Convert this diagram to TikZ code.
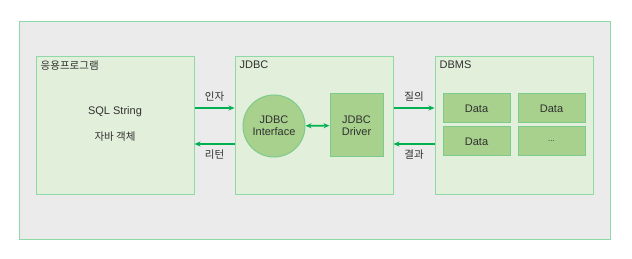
\documentclass[tikz,border=0pt]{standalone}
\usepackage{fontspec}
\setmainfont{Liberation Sans}
\newfontfamily\krfont{Noto Sans CJK KR}
\usetikzlibrary{arrows.meta, positioning, calc}
\definecolor{PanelGray}{HTML}{EBEBEB}
\definecolor{EdgeGreen}{HTML}{8ED9A6}
\definecolor{BoxGreen}{HTML}{E2EFDA}
\definecolor{PartGreen}{HTML}{A9D18E}
\definecolor{PartEdge}{HTML}{7CCB8C}
\definecolor{ArrowGreen}{HTML}{00B050}
\definecolor{TextGray}{HTML}{303030}

\tikzset{
  layer/.style={draw=EdgeGreen, fill=BoxGreen, line width=1pt, minimum width=158pt, minimum height=137pt, inner sep=0pt},
  part/.style={draw=PartEdge, fill=PartGreen, line width=1pt, text=TextGray, font=\fontsize{11}{12}\selectfont, align=center, inner sep=0pt},
  title/.style={anchor=north west, text=TextGray, font=\fontsize{11}{12}\selectfont, inner sep=0pt},
  label/.style={text=TextGray, font=\fontsize{10.5}{12}\selectfont\krfont, inner sep=0pt},
  flow/.style={-{Stealth[length=6pt,width=5pt]}, ArrowGreen, line width=1.6pt}
}

\begin{document}
\begin{tikzpicture}[x=1pt, y=-1pt]
        \useasboundingbox (0,0) rectangle (632,259);
        \fill [white] (0,0) rectangle (632,259);
        % Outer panel
        \draw [EdgeGreen, fill=PanelGray, line width=1pt] (19,22) rectangle (610,239);

        % Layers
        \node [layer] (app) at (115,125.5) {};
        \node [layer] (jdbc) at (314,125.5) {};
        \node [layer] (dbms) at (514,125.5) {};
        \node [title, font=\fontsize{10.5}{12}\selectfont\krfont] at ([shift={(5pt,-4pt)}]app.north west) {응용프로그램};
        \node [title] at ([shift={(5pt,-4pt)}]jdbc.north west) {JDBC};
        \node [title] at ([shift={(5pt,-4pt)}]dbms.north west) {DBMS};

        % Application contents
        \node [text=TextGray, font=\fontsize{11}{12}\selectfont] (sql) at ([yshift=13.5pt]app.center) {SQL String};
        \node [label] (obj) at ([yshift=-11.5pt]app.center) {자바 객체};

        % JDBC parts
        \node [part, circle, minimum size=62pt] (iface) at (274,126) {JDBC\\Interface};
        \node [part, minimum width=53pt, minimum height=63pt] (driver) at (356.5,125.5) {JDBC\\Driver};
        \draw [flow, {Stealth[length=6pt,width=5pt]}-{Stealth[length=6pt,width=5pt]}] (iface) -- (driver);

        % DBMS data
        \node [part, minimum width=67pt, minimum height=29pt] (d1) at (476.5,108.5) {Data};
        \node [part, minimum width=67pt, minimum height=29pt] (d2) at (551.5,108.5) {Data};
        \node [part, minimum width=67pt, minimum height=29pt] (d3) at (476.5,141.5) {Data};
        \node [part, minimum width=67pt, minimum height=29pt, font=\fontsize{8}{10}\selectfont] (d4) at (551.5,141.5) {...};

        % Calls and returns
        \draw [flow] ([yshift=17.5pt]app.east) -- ([yshift=17.5pt]jdbc.west) node [label, midway, above=6pt] {인자};
        \draw [flow] ([yshift=-18.5pt]jdbc.west) -- ([yshift=-18.5pt]app.east) node [label, midway, below=5pt] {리턴};
        \draw [flow] ([yshift=17.5pt]jdbc.east) -- ([yshift=17.5pt]dbms.west) node [label, midway, above=6pt] {질의};
        \draw [flow] ([yshift=-18.5pt]dbms.west) -- ([yshift=-18.5pt]jdbc.east) node [label, midway, below=5pt] {결과};
    \end{tikzpicture}
\end{document}
